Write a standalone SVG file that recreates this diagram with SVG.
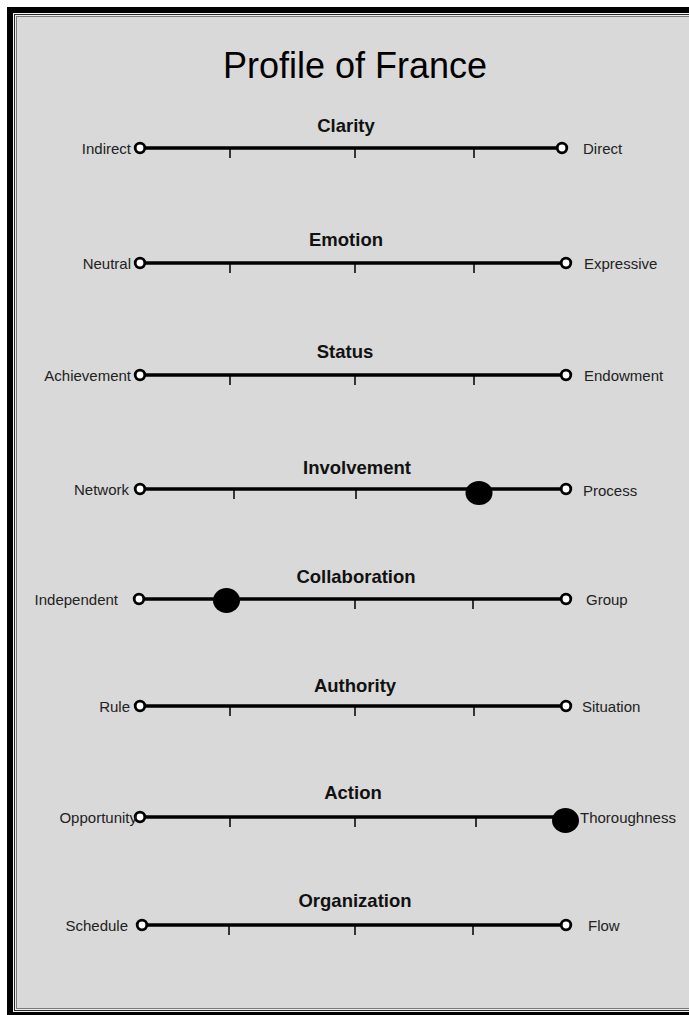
<svg xmlns="http://www.w3.org/2000/svg" width="689" height="1015" viewBox="0 0 689 1015">
  <style>
    .title { font-family: "Liberation Sans", Arial, sans-serif; font-size: 36px; fill: #000; }
    .head { font-family: "Liberation Sans", Arial, sans-serif; font-size: 18.5px; font-weight: bold; fill: #111; text-anchor: middle; }
    .lbl { font-family: "Liberation Sans", Arial, sans-serif; font-size: 15px; fill: #222; }
    .lbl.l { text-anchor: end; }
    .axis { stroke: #000; stroke-width: 3.3; fill: none; }
    .tick { stroke: #000; stroke-width: 1.5; fill: none; }
    .end { fill: #fff; stroke: #000; stroke-width: 2.8; }
    .mark { fill: #000; }
  </style>

  <!-- page and double-ruled frame -->
  <rect x="0" y="0" width="689" height="1015" fill="#ffffff"/>
  <rect x="7" y="7" width="700" height="1020" fill="#000"/>
  <rect x="13" y="13" width="700" height="999" fill="#f2f2f2"/>
  <rect x="14" y="14" width="700" height="997" fill="#2a2a2a"/>
  <rect x="15" y="15" width="700" height="995" fill="#ececec"/>
  <rect x="16" y="16" width="700" height="993" fill="#7a7a7a"/>
  <rect x="17" y="17" width="700" height="991" fill="#d9d9d9"/>

  <text class="title" x="355" y="78" text-anchor="middle">Profile of France</text>

  <!-- scale axes -->
  <g id="connectors">
    <line class="axis" x1="140" y1="148" x2="562" y2="148"/>
    <line class="axis" x1="140" y1="263" x2="566" y2="263"/>
    <line class="axis" x1="140" y1="375" x2="566" y2="375"/>
    <line class="axis" x1="140" y1="489" x2="566" y2="489"/>
    <line class="axis" x1="139" y1="599" x2="566" y2="599"/>
    <line class="axis" x1="140" y1="706" x2="566" y2="706"/>
    <line class="axis" x1="140" y1="817" x2="566" y2="817"/>
    <line class="axis" x1="142" y1="925" x2="566" y2="925"/>
  </g>

  <g id="clarity">
    <text class="head" x="346" y="132">Clarity</text>
    <path class="tick" d="M230 148v10M355 148v10M474 148v10"/>
    <circle class="end" cx="140" cy="148" r="4.8"/>
    <circle class="end" cx="562" cy="148" r="4.8"/>
    <text class="lbl l" x="131" y="154">Indirect</text>
    <text class="lbl" x="583" y="154">Direct</text>
  </g>

  <g id="emotion">
    <text class="head" x="346" y="246">Emotion</text>
    <path class="tick" d="M230 263v10M355 263v10M474 263v10"/>
    <circle class="end" cx="140" cy="263" r="4.8"/>
    <circle class="end" cx="566" cy="263" r="4.8"/>
    <text class="lbl l" x="131" y="269">Neutral</text>
    <text class="lbl" x="584" y="269">Expressive</text>
  </g>

  <g id="status">
    <text class="head" x="345" y="358">Status</text>
    <path class="tick" d="M230 375v10M355 375v10M474 375v10"/>
    <circle class="end" cx="140" cy="375" r="4.8"/>
    <circle class="end" cx="566" cy="375" r="4.8"/>
    <text class="lbl l" x="131" y="381">Achievement</text>
    <text class="lbl" x="584" y="381">Endowment</text>
  </g>

  <g id="involvement">
    <text class="head" x="357" y="474">Involvement</text>
    <path class="tick" d="M234 489v10M356 489v10M474 489v10"/>
    <circle class="end" cx="140" cy="489" r="4.8"/>
    <circle class="end" cx="566" cy="489" r="4.8"/>
    <ellipse class="mark" cx="479" cy="493" rx="13.5" ry="12"/>
    <text class="lbl l" x="129" y="495">Network</text>
    <text class="lbl" x="583" y="496">Process</text>
  </g>

  <g id="collaboration">
    <text class="head" x="356" y="583">Collaboration</text>
    <path class="tick" d="M230 599v10M355 599v10M473 599v10"/>
    <circle class="end" cx="139" cy="599" r="4.8"/>
    <circle class="end" cx="566" cy="599" r="4.8"/>
    <ellipse class="mark" cx="226.5" cy="600.5" rx="13.5" ry="12.5"/>
    <text class="lbl l" x="118" y="605">Independent</text>
    <text class="lbl" x="586" y="605">Group</text>
  </g>

  <g id="authority">
    <text class="head" x="355" y="692">Authority</text>
    <path class="tick" d="M230 706v10M355 706v10M474 706v10"/>
    <circle class="end" cx="140" cy="706" r="4.8"/>
    <circle class="end" cx="566" cy="706" r="4.8"/>
    <text class="lbl l" x="130" y="712">Rule</text>
    <text class="lbl" x="582" y="712">Situation</text>
  </g>

  <g id="action">
    <text class="head" x="353" y="799">Action</text>
    <path class="tick" d="M230 817v10M355 817v10M476 817v10"/>
    <circle class="end" cx="140" cy="817" r="4.8"/>
    <ellipse class="mark" cx="565.5" cy="820.5" rx="13.5" ry="12.5"/>
    <text class="lbl l" x="137" y="823">Opportunity</text>
    <text class="lbl" x="580" y="823">Thoroughness</text>
  </g>

  <g id="organization">
    <text class="head" x="355" y="907">Organization</text>
    <path class="tick" d="M229 925v10M355 925v10M473 925v10"/>
    <circle class="end" cx="142" cy="925" r="4.8"/>
    <circle class="end" cx="566" cy="925" r="4.8"/>
    <text class="lbl l" x="128" y="931">Schedule</text>
    <text class="lbl" x="588" y="931">Flow</text>
  </g>
</svg>
